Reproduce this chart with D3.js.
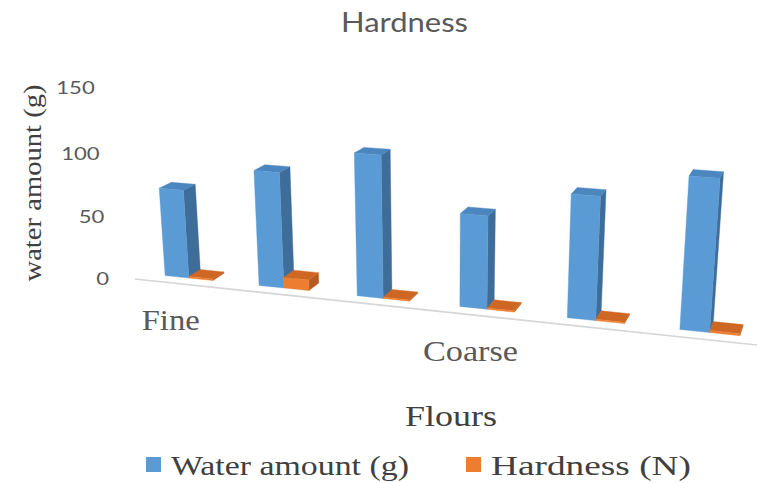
<!DOCTYPE html>
<html>
<head>
<meta charset="utf-8">
<script src="https://cdn.jsdelivr.net/npm/d3@7"></script>
<style>
  html, body { margin: 0; padding: 0; background: #fff; }
  svg { display: block; }
</style>
</head>
<body>
<svg id="chart" width="757" height="483"></svg>
<script>
// ---- data ----
const flours = ["Fine", "Fine", "Fine", "Coarse", "Coarse", "Coarse"];
const waterAmount = [71, 91, 110, 71, 92, 111];
const hardness = [1.2, 8.5, 0.9, 1.0, 1.0, 1.5];
const seriesNames = ["Water amount (g)", "Hardness (N)"];
const yTicks = [0, 50, 100, 150];
const labelEvery = 3;            // category label shown on every 3rd column group

// ---- styling ----
const faceColors = [
  { front: "#5B9BD5", side: "#3E6D9A", top: "#4B86BF" },
  { front: "#ED7D31", side: "#B65B1F", top: "#CF6724" }
];
const legendColors = ["#5B9BD5", "#ED7D31"];
const sansFont = "Lato, 'Open Sans', sans-serif";
const serifFont = "'Liberation Serif', 'DejaVu Serif', serif";

// ---- 3D scene: camera looking down at the chart floor, category axis receding to the left ----
const cam = {
  focal: 1390, cx: 440, cy: 304,
  pitch: 19 * Math.PI / 180,
  yaw: 17.8 * Math.PI / 180,
  origin: [-0.711, -1, 3.083]     // world position of the axis origin (floor, front-left)
};
const axisLength = 1.439;          // world length of the category axis
const barDepth = 0.058;            // column depth (world units)
const rowOffset = 0.045;           // gap between floor front edge and the column row

const cosP = Math.cos(cam.pitch), sinP = Math.sin(cam.pitch);
const cosY = Math.cos(cam.yaw), sinY = Math.sin(cam.yaw);

// X: along category axis, Y: value height, Z: depth behind the front edge
function project(X, Y, Z) {
  const wx = cam.origin[0] + X * cosY + Z * sinY;
  const wy = cam.origin[1] + Y;
  const wz = cam.origin[2] - X * sinY + Z * cosY;
  const yc = wy * cosP + wz * sinP;
  const zc = wz * cosP - wy * sinP;
  return [cam.cx + cam.focal * wx / zc, cam.cy - cam.focal * yc / zc];
}

// ---- scales ----
const x = d3.scaleBand()
  .domain(d3.range(flours.length))
  .range([0, axisLength])
  .paddingInner(0.486)
  .paddingOuter(0.224);
const xSeries = d3.scaleBand()
  .domain(d3.range(seriesNames.length))
  .range([0, x.bandwidth()]);
const y = d3.scaleLinear().domain([0, 150]).range([0, 0.446]);

const svg = d3.select("#chart");

// ---- title ----
svg.append("text")
  .attr("x", 404.5).attr("y", 32)
  .attr("text-anchor", "middle")
  .attr("font-family", sansFont).attr("font-size", 26)
  .attr("fill", "#595959")
  .attr("textLength", 127).attr("lengthAdjust", "spacingAndGlyphs")
  .text("Hardness");

// ---- floor edge (category axis line) ----
const f0 = project(0, 0, 0), f1 = project(axisLength, 0, 0);
svg.append("line")
  .attr("x1", f0[0]).attr("y1", f0[1])
  .attr("x2", f1[0]).attr("y2", f1[1])
  .attr("stroke", "#d6d6d6").attr("stroke-width", 1.6);

// ---- value axis tick labels ----
svg.append("g").selectAll("text")
  .data(yTicks)
  .join("text")
  .each(function (v) {
    const p = project(0, y(v), 0);
    d3.select(this).attr("x", p[0] - 26).attr("y", p[1] + 6);
  })
  .attr("text-anchor", "end")
  .attr("font-family", sansFont).attr("font-size", 17)
  .attr("fill", "#595959")
  .text(d => d)
  .each(function () {
    const n = this.getComputedTextLength();
    d3.select(this).attr("textLength", n * 1.3).attr("lengthAdjust", "spacingAndGlyphs");
  });

// ---- value axis title ----
svg.append("text")
  .attr("transform", "translate(41,183) rotate(-90)")
  .attr("text-anchor", "middle")
  .attr("font-family", serifFont).attr("font-size", 26)
  .attr("fill", "#404040")
  .attr("textLength", 197).attr("lengthAdjust", "spacingAndGlyphs")
  .text("water amount (g)");

// ---- columns ----
const series = [waterAmount, hardness];
const bars = [];
flours.forEach((_, i) => {
  series.forEach((vals, s) => {
    const t0 = x(i) + xSeries(s);
    bars.push({ i, s, t0, t1: t0 + xSeries.bandwidth(), h: y(vals[i]) });
  });
});
// painter's order: farther (left) columns first
bars.sort((a, b) => a.t0 - b.t0);

const poly = pts => "M" + pts.map(p => p.join(",")).join("L") + "Z";
const gBars = svg.append("g");
bars.forEach(b => {
  const s0 = rowOffset, s1 = rowOffset + barDepth;
  const c = faceColors[b.s];
  const side = [project(b.t1, 0, s0), project(b.t1, 0, s1), project(b.t1, b.h, s1), project(b.t1, b.h, s0)];
  const top = [project(b.t0, b.h, s0), project(b.t1, b.h, s0), project(b.t1, b.h, s1), project(b.t0, b.h, s1)];
  const front = [project(b.t0, 0, s0), project(b.t1, 0, s0), project(b.t1, b.h, s0), project(b.t0, b.h, s0)];
  gBars.append("path").attr("d", poly(side)).attr("fill", c.side).attr("stroke", c.side).attr("stroke-width", 0.4);
  gBars.append("path").attr("d", poly(top)).attr("fill", c.top).attr("stroke", c.top).attr("stroke-width", 0.4);
  gBars.append("path").attr("d", poly(front)).attr("fill", c.front).attr("stroke", c.front).attr("stroke-width", 0.4);
});

// ---- category labels ----
const catWidths = { Fine: 58, Coarse: 95 };
svg.append("g").selectAll("text")
  .data(flours.map((name, i) => ({ name, i })).filter(d => d.i % labelEvery === 0))
  .join("text")
  .each(function (d) {
    const p = project(x(d.i) + xSeries(0) + xSeries.bandwidth() / 2, 0, 0);
    d3.select(this).attr("x", p[0] + 3).attr("y", p[1] + 47);
  })
  .attr("text-anchor", "middle")
  .attr("font-family", serifFont).attr("font-size", 30)
  .attr("fill", "#595959")
  .attr("textLength", d => catWidths[d.name]).attr("lengthAdjust", "spacingAndGlyphs")
  .text(d => d.name);

// ---- category axis title ----
svg.append("text")
  .attr("x", 451).attr("y", 426)
  .attr("text-anchor", "middle")
  .attr("font-family", serifFont).attr("font-size", 30)
  .attr("fill", "#404040")
  .attr("textLength", 92).attr("lengthAdjust", "spacingAndGlyphs")
  .text("Flours");

// ---- legend ----
const legendX = [146, 466], legendTextW = [238, 200];
const legend = svg.append("g").selectAll("g")
  .data(seriesNames)
  .join("g")
  .attr("transform", (d, i) => `translate(${legendX[i]},0)`);
legend.append("rect")
  .attr("x", 0).attr("y", 457).attr("width", 15).attr("height", 15)
  .attr("fill", (d, i) => legendColors[i]);
legend.append("text")
  .attr("x", 25).attr("y", 475)
  .attr("font-family", serifFont).attr("font-size", 27)
  .attr("fill", "#404040")
  .attr("textLength", (d, i) => legendTextW[i]).attr("lengthAdjust", "spacingAndGlyphs")
  .text(d => d);
</script>
</body>
</html>
